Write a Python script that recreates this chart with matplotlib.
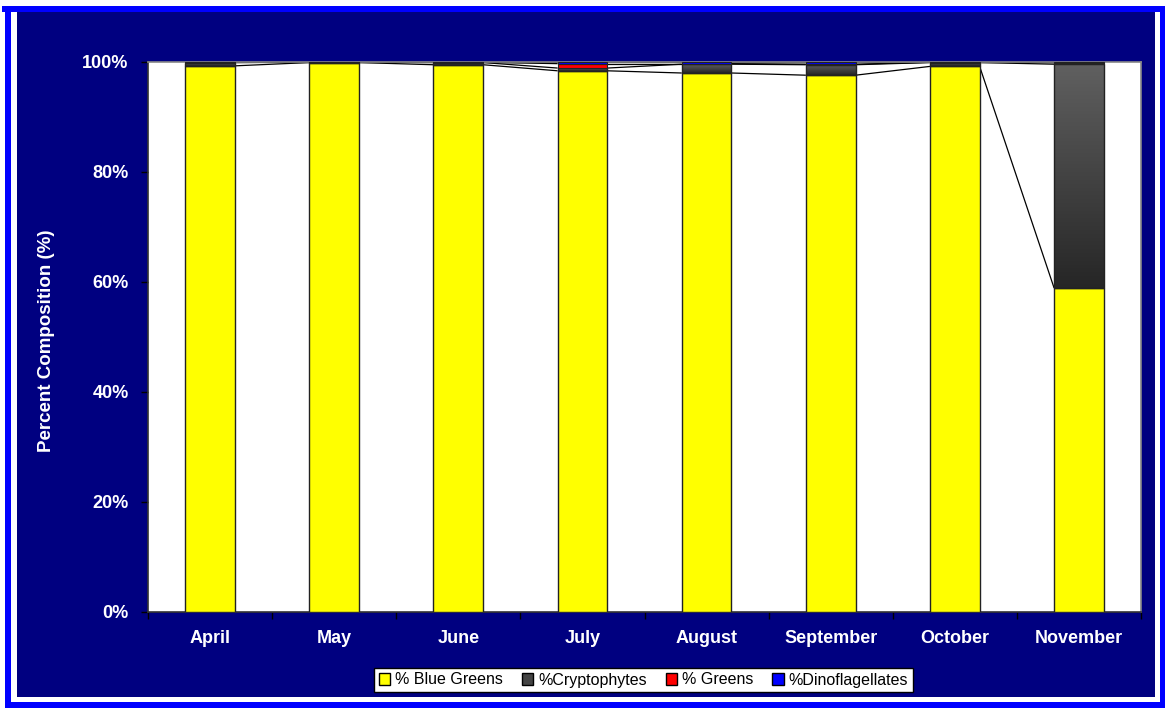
import matplotlib
matplotlib.use("Agg")
import matplotlib.pyplot as plt
import numpy as np
from matplotlib.patches import Rectangle
from matplotlib.colors import LinearSegmentedColormap

months = ["April", "May", "June", "July", "August", "September", "October", "November"]
blue_greens = [99.3, 99.9, 99.5, 98.4, 98.0, 97.6, 99.2, 58.9]
cryptophytes = [0.6, 0.1, 0.4, 0.5, 1.6, 1.9, 0.7, 40.7]
greens = [0.05, 0.0, 0.05, 0.8, 0.1, 0.1, 0.05, 0.3]
dinoflagellates = [0.05, 0.0, 0.05, 0.3, 0.3, 0.4, 0.05, 0.1]
y_ticks = [0, 20, 40, 60, 80, 100]
y_tick_labels = ["0%", "20%", "40%", "60%", "80%", "100%"]
legend_labels = ["% Blue Greens", "%Cryptophytes", "% Greens", "%Dinoflagellates"]

W, H = 1165, 709
plt.rcParams['font.family'] = ['Liberation Sans', 'DejaVu Sans']
fig = plt.figure(figsize=(W / 100, H / 100), dpi=100)
fig.patch.set_facecolor("white")

def px_rect(x0, y0, x1, y1, color, z=0):
    fig.add_artist(Rectangle((x0 / W, 1 - y1 / H), (x1 - x0) / W, (y1 - y0) / H,
                             transform=fig.transFigure, facecolor=color,
                             edgecolor="none", zorder=z))

# frame
px_rect(2, 6, 1165, 12, "#0000FF")
px_rect(5, 12, 11, 708, "#0000FF")
px_rect(5, 702, 1165, 708, "#0000FF")
px_rect(1160, 12, 1165, 708, "#0000FF")
px_rect(17, 12, 1155, 697, "#000080")

ax = fig.add_axes([148 / W, 1 - 612 / H, (1141 - 148) / W, (612 - 62) / H])
ax.set_facecolor("white")
ax.set_zorder(2)

x = np.arange(len(months))
w = 0.4
bg = np.array(blue_greens)
cr = np.array(cryptophytes)
gr = np.array(greens)
dn = np.array(dinoflagellates)

b1 = ax.bar(x, bg, w, color="#FFFF00", edgecolor="#222222", linewidth=1, zorder=3)
b2 = ax.bar(x, cr, w, bottom=bg, facecolor="none", edgecolor="#222222", linewidth=1, zorder=3)
b3 = ax.bar(x, gr, w, bottom=bg + cr, color="#FF0000", edgecolor="#222222", linewidth=0.8, zorder=3)
b4 = ax.bar(x, dn, w, bottom=bg + cr + gr, color="#0000FF", edgecolor="#222222", linewidth=0.8, zorder=3)

cmap = LinearSegmentedColormap.from_list("crypt", ["#262626", "#606060"])
grad = np.linspace(0, 1, 256).reshape(-1, 1)
for p in b2.patches:
    bx, by = p.get_x(), p.get_y()
    bw, bh = p.get_width(), p.get_height()
    if bh <= 0:
        continue
    im = ax.imshow(grad, cmap=cmap, extent=[bx, bx + bw, by, by + bh], origin="lower",
                   aspect="auto", zorder=2.9, interpolation="bilinear")
    im.set_clip_path(p)

# series lines
levels = [bg, bg + cr, bg + cr + gr, bg + cr + gr + dn]
for lv in levels:
    for i in range(len(months) - 1):
        ax.plot([x[i] + w / 2, x[i + 1] - w / 2], [lv[i], lv[i + 1]], color="black",
                linewidth=0.9, zorder=2.5, solid_capstyle="butt")

ax.set_xlim(-0.5, len(months) - 0.5)
ax.set_ylim(0, 100)
ax.set_yticks(y_ticks)
ax.set_yticklabels(y_tick_labels)
ax.set_xticks(x)
ax.set_xticklabels(months)
ax.set_xticks(np.arange(-0.5, len(months), 1.0), minor=True)
ax.tick_params(axis="x", which="major", length=0, pad=13, labelsize=13, labelcolor="white")
ax.tick_params(axis="x", which="minor", length=5, direction="out", color="black", width=1)
ax.tick_params(axis="y", length=5, direction="out", color="black", width=1, pad=9,
               labelsize=13, labelcolor="white")
for lab in ax.get_xticklabels() + ax.get_yticklabels():
    lab.set_fontweight("bold")
for s in ["left", "bottom"]:
    ax.spines[s].set_color("#333333")
for s in ["top", "right"]:
    ax.spines[s].set_color("#888888")
for s in ax.spines.values():
    s.set_linewidth(1.2)

fig.text(47 / W, 1 - 341 / H, "Percent Composition (%)", rotation=90, color="white",
         fontsize=13.5, fontweight="bold", ha="center", va="center")

handles = [Rectangle((0, 0), 1, 1, facecolor=c, edgecolor="black", linewidth=1)
           for c in ["#FFFF00", "#444444", "#FF0000", "#0000FF"]]
leg = fig.legend(handles, legend_labels, loc="center", bbox_to_anchor=(643.5 / W, 1 - 680 / H),
                 ncol=4, frameon=True, fancybox=False, fontsize=11.5, handlelength=0.7,
                 handleheight=0.7, handletextpad=0.3, columnspacing=1.2, borderpad=0.3,
                 borderaxespad=0, framealpha=1)
leg.get_frame().set_edgecolor("black")
leg.get_frame().set_linewidth(1)
leg.get_frame().set_facecolor("white")

fig.savefig("out.png", dpi=100, facecolor=fig.get_facecolor())
